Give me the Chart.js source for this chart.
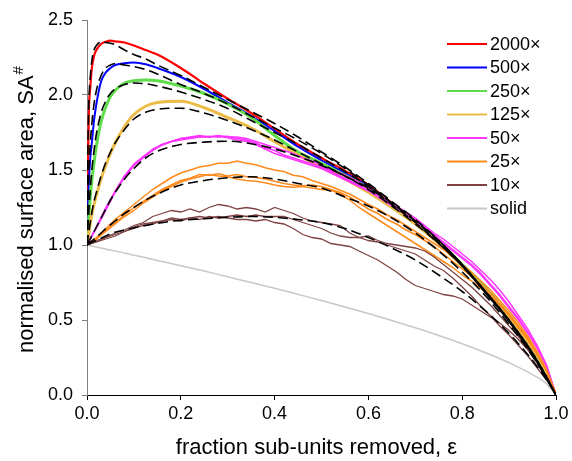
<!DOCTYPE html>
<html>
<head>
<meta charset="utf-8">
<script src="https://cdn.jsdelivr.net/npm/chart.js@4.4.1/dist/chart.umd.min.js"></script>
<style>
    html, body { margin: 0; padding: 0; background: #fff; }
    #wrap { width: 572px; height: 461px; }
</style>
</head>
<body>
<div id="wrap"><canvas id="sa-chart" width="572" height="461"></canvas></div>
<script>
// Normalised surface area vs fraction of sub-units removed

// Legend entries
const seriesLabels = ['2000×', '500×', '250×', '125×', '50×', '25×', '10×', 'solid'];

// Axis texts
const xTitle = 'fraction sub-units removed, ε';
const yTitle = 'normalised surface area, SA';
const yTitleSup = '#';

// x positions for the smooth curves (simulations at high magnification + fitted curves)
const epsFit = [0, 0.002, 0.004, 0.007, 0.01, 0.015, 0.02, 0.03, 0.04, 0.05, 0.06, 0.08, 0.1, 0.125, 0.15, 0.2,
    0.25, 0.3, 0.35, 0.4, 0.45, 0.5, 0.55, 0.6, 0.65, 0.7, 0.75, 0.8, 0.85, 0.9, 0.95, 0.98, 1];

// simulated curves
const sa2000 = [1.0, 1.55, 1.90, 2.05, 2.17, 2.26, 2.30, 2.34, 2.355, 2.362, 2.358, 2.35, 2.33, 2.30, 2.27, 2.18,
    2.075, 1.975, 1.88, 1.775, 1.67, 1.58, 1.495, 1.40, 1.28, 1.16, 1.02, 0.87, 0.70, 0.53, 0.30, 0.15, 0];
const sa500 = [1.0, 1.25, 1.42, 1.58, 1.67, 1.83, 1.94, 2.09, 2.15, 2.18, 2.20, 2.212, 2.216, 2.205, 2.18, 2.12,
    2.04, 1.95, 1.86, 1.76, 1.655, 1.565, 1.48, 1.39, 1.27, 1.15, 1.02, 0.87, 0.71, 0.53, 0.31, 0.15, 0];
const sa250 = [1.0, 1.10, 1.19, 1.32, 1.42, 1.55, 1.66, 1.82, 1.92, 1.99, 2.03, 2.08, 2.095, 2.10, 2.095, 2.06,
    2.01, 1.94, 1.85, 1.73, 1.62, 1.545, 1.465, 1.38, 1.27, 1.15, 1.02, 0.87, 0.71, 0.53, 0.31, 0.15, 0];
const sa125 = [1.0, 1.04, 1.08, 1.14, 1.20, 1.27, 1.33, 1.44, 1.53, 1.61, 1.68, 1.79, 1.87, 1.925, 1.95, 1.958,
    1.915, 1.85, 1.78, 1.69, 1.60, 1.52, 1.44, 1.35, 1.25, 1.14, 1.01, 0.86, 0.70, 0.52, 0.31, 0.15, 0];
const saSolid = [1, 0.999, 0.997, 0.995, 0.993, 0.990, 0.987, 0.980, 0.973, 0.966, 0.960, 0.946, 0.932, 0.915, 0.897, 0.862,
    0.826, 0.788, 0.750, 0.711, 0.671, 0.630, 0.587, 0.543, 0.497, 0.448, 0.397, 0.342, 0.282, 0.215, 0.136, 0.074, 0];

// fitted curves (black dashed)
const fit2000 = [1.0, 1.65, 1.95, 2.12, 2.22, 2.30, 2.33, 2.355, 2.35, 2.345, 2.335, 2.30, 2.27, 2.24, 2.20, 2.13,
    2.05, 1.97, 1.89, 1.81, 1.72, 1.62, 1.52, 1.41, 1.29, 1.17, 1.03, 0.87, 0.69, 0.50, 0.28, 0.12, 0];
const fit500 = [1.0, 1.30, 1.50, 1.68, 1.80, 1.94, 2.03, 2.13, 2.18, 2.20, 2.21, 2.20, 2.19, 2.17, 2.14, 2.07,
    2.01, 1.94, 1.86, 1.78, 1.70, 1.61, 1.51, 1.40, 1.28, 1.16, 1.02, 0.86, 0.68, 0.49, 0.27, 0.11, 0];
const fit250 = [1.0, 1.12, 1.23, 1.37, 1.49, 1.63, 1.74, 1.88, 1.96, 2.01, 2.04, 2.07, 2.08, 2.075, 2.06, 2.02,
    1.97, 1.91, 1.83, 1.75, 1.67, 1.58, 1.49, 1.39, 1.27, 1.15, 1.01, 0.86, 0.68, 0.49, 0.27, 0.11, 0];
const fit125 = [1.0, 1.045, 1.09, 1.15, 1.21, 1.29, 1.35, 1.46, 1.55, 1.62, 1.68, 1.77, 1.84, 1.885, 1.905, 1.912,
    1.88, 1.83, 1.77, 1.70, 1.62, 1.54, 1.46, 1.37, 1.26, 1.14, 1.01, 0.86, 0.68, 0.49, 0.27, 0.11, 0];
const fit50 = [1.0, 1.012, 1.025, 1.04, 1.06, 1.09, 1.12, 1.18, 1.24, 1.30, 1.35, 1.44, 1.51, 1.58, 1.625, 1.67,
    1.686, 1.692, 1.675, 1.64, 1.59, 1.53, 1.46, 1.38, 1.28, 1.16, 1.03, 0.87, 0.69, 0.50, 0.28, 0.12, 0];
const fit25 = [1.0, 1.005, 1.01, 1.02, 1.025, 1.04, 1.05, 1.08, 1.11, 1.135, 1.16, 1.21, 1.25, 1.30, 1.34, 1.40,
    1.43, 1.448, 1.455, 1.44, 1.41, 1.38, 1.32, 1.26, 1.18, 1.08, 0.96, 0.82, 0.66, 0.47, 0.26, 0.11, 0];
const fit10 = [1.0, 1.004, 1.008, 1.012, 1.017, 1.025, 1.03, 1.045, 1.06, 1.075, 1.085, 1.10, 1.115, 1.13, 1.145, 1.165,
    1.175, 1.185, 1.19, 1.185, 1.17, 1.15, 1.11, 1.05, 0.98, 0.90, 0.80, 0.69, 0.56, 0.41, 0.23, 0.10, 0];

// x positions for the noisy low magnification runs
const epsRun = [0, 0.02, 0.04, 0.06, 0.08, 0.1, 0.12, 0.14, 0.16, 0.18, 0.2, 0.22, 0.24, 0.26, 0.28, 0.3, 0.32,
    0.34, 0.36, 0.38, 0.4, 0.42, 0.44, 0.46, 0.48, 0.5, 0.52, 0.54, 0.56, 0.58, 0.6, 0.62, 0.64, 0.66, 0.68,
    0.7, 0.72, 0.74, 0.76, 0.78, 0.8, 0.82, 0.84, 0.86, 0.88, 0.9, 0.92, 0.94, 0.96, 0.98, 1];

// 50x, three runs
const run50a = [1.00, 1.12, 1.24, 1.36, 1.46, 1.53, 1.59, 1.63, 1.665, 1.69, 1.70, 1.71, 1.72, 1.725, 1.72, 1.725, 1.71,
    1.70, 1.68, 1.65, 1.63, 1.60, 1.58, 1.56, 1.54, 1.52, 1.49, 1.46, 1.43, 1.40, 1.37, 1.33, 1.29, 1.25, 1.21,
    1.17, 1.12, 1.07, 1.02, 0.97, 0.92, 0.87, 0.81, 0.74, 0.67, 0.59, 0.51, 0.42, 0.32, 0.19, 0];
const run50b = [1.00, 1.11, 1.23, 1.35, 1.45, 1.53, 1.58, 1.63, 1.67, 1.69, 1.71, 1.72, 1.73, 1.72, 1.73, 1.72, 1.72,
    1.71, 1.69, 1.67, 1.65, 1.63, 1.61, 1.58, 1.56, 1.53, 1.50, 1.48, 1.45, 1.42, 1.38, 1.34, 1.30, 1.26, 1.22,
    1.18, 1.13, 1.08, 1.04, 0.99, 0.94, 0.89, 0.83, 0.77, 0.70, 0.62, 0.53, 0.44, 0.33, 0.20, 0];
const run50c = [1.00, 1.12, 1.25, 1.36, 1.46, 1.54, 1.59, 1.64, 1.67, 1.69, 1.71, 1.715, 1.72, 1.72, 1.725, 1.715, 1.70,
    1.69, 1.67, 1.64, 1.61, 1.59, 1.57, 1.55, 1.53, 1.51, 1.48, 1.45, 1.42, 1.39, 1.36, 1.32, 1.28, 1.24, 1.20,
    1.16, 1.11, 1.06, 1.01, 0.96, 0.91, 0.86, 0.80, 0.73, 0.66, 0.58, 0.50, 0.41, 0.31, 0.19, 0];

// 25x, three runs
const run25a = [1.00, 1.05, 1.11, 1.17, 1.22, 1.27, 1.32, 1.37, 1.41, 1.45, 1.48, 1.50, 1.52, 1.53, 1.545, 1.545, 1.56,
    1.545, 1.535, 1.515, 1.50, 1.49, 1.465, 1.455, 1.43, 1.41, 1.39, 1.365, 1.34, 1.305, 1.27, 1.24, 1.20, 1.17, 1.13,
    1.09, 1.05, 1.01, 0.97, 0.92, 0.87, 0.82, 0.76, 0.70, 0.63, 0.56, 0.48, 0.39, 0.29, 0.17, 0];
const run25b = [1.00, 1.04, 1.10, 1.15, 1.20, 1.25, 1.29, 1.33, 1.37, 1.40, 1.43, 1.445, 1.47, 1.465, 1.475, 1.46, 1.47,
    1.455, 1.45, 1.44, 1.425, 1.41, 1.40, 1.395, 1.40, 1.39, 1.37, 1.35, 1.32, 1.28, 1.24, 1.21, 1.17, 1.14, 1.10,
    1.07, 1.03, 0.99, 0.94, 0.89, 0.84, 0.79, 0.74, 0.68, 0.61, 0.54, 0.46, 0.38, 0.28, 0.16, 0];
const run25c = [1.00, 1.04, 1.09, 1.14, 1.19, 1.23, 1.28, 1.32, 1.36, 1.39, 1.42, 1.44, 1.455, 1.47, 1.46, 1.455, 1.44,
    1.43, 1.425, 1.415, 1.40, 1.39, 1.385, 1.39, 1.38, 1.37, 1.365, 1.34, 1.30, 1.25, 1.21, 1.17, 1.13, 1.09, 1.05,
    1.01, 0.97, 0.93, 0.89, 0.85, 0.80, 0.76, 0.71, 0.66, 0.60, 0.53, 0.45, 0.37, 0.27, 0.16, 0];

// 10x, three runs
const run10a = [1.00, 1.02, 1.05, 1.08, 1.10, 1.13, 1.15, 1.19, 1.21, 1.23, 1.22, 1.24, 1.22, 1.25, 1.27, 1.26, 1.24,
    1.25, 1.24, 1.22, 1.25, 1.23, 1.21, 1.18, 1.16, 1.15, 1.14, 1.13, 1.08, 1.05, 1.03, 1.02, 1.00, 0.98, 0.96,
    0.94, 0.90, 0.86, 0.83, 0.78, 0.72, 0.66, 0.59, 0.53, 0.46, 0.40, 0.33, 0.26, 0.18, 0.10, 0];
const run10b = [1.00, 1.03, 1.05, 1.07, 1.09, 1.12, 1.14, 1.15, 1.16, 1.18, 1.17, 1.18, 1.17, 1.19, 1.18, 1.19, 1.20,
    1.19, 1.20, 1.19, 1.19, 1.19, 1.17, 1.15, 1.13, 1.11, 1.08, 1.06, 1.05, 1.05, 1.06, 1.03, 1.01, 1.00, 0.99,
    0.98, 0.96, 0.92, 0.87, 0.82, 0.77, 0.72, 0.66, 0.60, 0.53, 0.46, 0.39, 0.31, 0.22, 0.12, 0];
const run10c = [1.00, 1.02, 1.04, 1.06, 1.09, 1.11, 1.13, 1.14, 1.16, 1.17, 1.16, 1.18, 1.19, 1.18, 1.19, 1.18, 1.17,
    1.17, 1.16, 1.17, 1.15, 1.14, 1.11, 1.07, 1.05, 1.04, 1.01, 1.00, 0.99, 0.96, 0.93, 0.90, 0.86, 0.82, 0.77,
    0.73, 0.71, 0.69, 0.67, 0.66, 0.64, 0.60, 0.56, 0.52, 0.48, 0.43, 0.37, 0.30, 0.21, 0.12, 0];

// Colours
const seriesColors = ['#ff0000', '#0000ff', '#5fdc4a', '#ecbc48', '#ff33ff', '#ff8a1c', '#7f4343', '#c8c8c8'];
const FONT = '"Liberation Sans", Arial, sans-serif';

function pairs(xs, ys) {
    return ys.map((y, i) => ({ x: xs[i], y: y }));
}

// one plotted line
function curve(xs, ys, color, width, opts = {}) {
    return {
        data: pairs(xs, ys),
        showLine: true,
        borderColor: color,
        backgroundColor: color,
        borderWidth: width,
        borderDash: opts.dash || [],
        pointRadius: 0,
        fill: false,
        tension: 0,
        cubicInterpolationMode: opts.smooth ? 'monotone' : 'default',
        order: opts.order === undefined ? 1 : opts.order
    };
}

function dashed(ys) {
    return curve(epsFit, ys, '#000000', 1.6, { dash: [10, 5], smooth: true, order: 0 });
}

// Legend drawn to the right inside the plot
const seriesLegend = {
    id: 'seriesLegend',
    afterDraw(chart) {
        const ctx = chart.ctx;
        ctx.save();
        ctx.font = '18px ' + FONT;
        ctx.textBaseline = 'middle';
        ctx.textAlign = 'left';
        seriesLabels.forEach((label, i) => {
            const y = 44 + i * 23.5;
            ctx.strokeStyle = seriesColors[i];
            ctx.lineWidth = 2;
            ctx.beginPath();
            ctx.moveTo(447, y);
            ctx.lineTo(487, y);
            ctx.stroke();
            ctx.fillStyle = '#000';
            ctx.fillText(label, 490, y + 1);
        });
        ctx.restore();
    }
};

// Axis titles (y title needs a superscript)
const axisTitles = {
    id: 'axisTitles',
    afterDraw(chart) {
        const ctx = chart.ctx;
        const area = chart.chartArea;
        ctx.save();
        ctx.fillStyle = '#000';
        ctx.font = '22px ' + FONT;
        ctx.textAlign = 'center';
        ctx.textBaseline = 'middle';
        ctx.fillText(xTitle, (area.left + area.right) / 2 - 5, 448);

        ctx.translate(27, 210);
        ctx.rotate(-Math.PI / 2);
        const wMain = ctx.measureText(yTitle).width;
        ctx.font = '15px ' + FONT;
        const wSup = ctx.measureText(yTitleSup).width;
        const x0 = -(wMain + wSup) / 2;
        ctx.textAlign = 'left';
        ctx.font = '22px ' + FONT;
        ctx.fillText(yTitle, x0, 0);
        ctx.font = '15px ' + FONT;
        ctx.fillText(yTitleSup, x0 + wMain + 1, -8);
        ctx.restore();
    }
};

function initChart() {
    const ctx = document.getElementById('sa-chart').getContext('2d');
    const c = seriesColors;

    const datasets = [
        curve(epsFit, saSolid, c[7], 1.5, { smooth: true, order: 3 }),
        curve(epsRun, run10a, c[6], 1.3),
        curve(epsRun, run10b, c[6], 1.3),
        curve(epsRun, run10c, c[6], 1.3),
        curve(epsRun, run25a, c[5], 1.5),
        curve(epsRun, run25b, c[5], 1.5),
        curve(epsRun, run25c, c[5], 1.5),
        curve(epsRun, run50a, c[4], 1.4),
        curve(epsRun, run50b, c[4], 1.4),
        curve(epsRun, run50c, c[4], 1.4),
        curve(epsFit, sa125, c[3], 3, { smooth: true }),
        curve(epsFit, sa250, c[2], 3, { smooth: true }),
        curve(epsFit, sa500, c[1], 2, { smooth: true }),
        curve(epsFit, sa2000, c[0], 2.2, { smooth: true }),
        dashed(fit2000),
        dashed(fit500),
        dashed(fit250),
        dashed(fit125),
        dashed(fit50),
        dashed(fit25),
        dashed(fit10)
    ];

    return new Chart(ctx, {
        type: 'scatter',
        data: { datasets: datasets },
        options: {
            responsive: false,
            animation: false,
            layout: { padding: { top: 20, right: 16, left: 0, bottom: 0 } },
            plugins: {
                legend: { display: false },
                tooltip: { enabled: false }
            },
            scales: {
                x: {
                    type: 'linear',
                    min: 0,
                    max: 1,
                    ticks: {
                        stepSize: 0.2,
                        color: '#000',
                        font: { family: FONT, size: 18 },
                        padding: 3,
                        maxRotation: 0,
                        callback: (v) => v.toFixed(1)
                    },
                    grid: { drawOnChartArea: false, drawTicks: true, tickLength: 5, color: '#000' },
                    border: { color: '#000', width: 1 },
                    afterFit: (s) => { s.height = 66; }
                },
                y: {
                    min: 0,
                    max: 2.5,
                    ticks: {
                        stepSize: 0.5,
                        color: '#000',
                        font: { family: FONT, size: 18 },
                        padding: 9,
                        callback: (v) => v.toFixed(1)
                    },
                    grid: { drawOnChartArea: false, drawTicks: true, tickLength: 5, color: '#808080' },
                    border: { color: '#808080', width: 1 },
                    afterFit: (s) => { s.width = 87; }
                }
            }
        },
        plugins: [seriesLegend, axisTitles]
    });
}

initChart();
</script>
</body>
</html>
